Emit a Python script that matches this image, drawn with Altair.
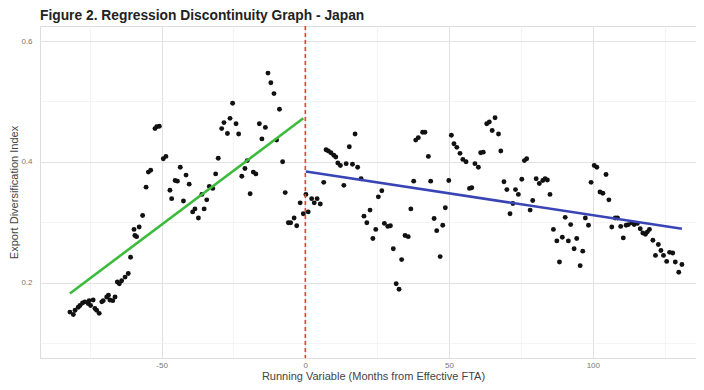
import altair as alt
import pandas as pd

# Running variable (months from effective FTA) and export diversification index
months_pre = [-81.9, -80.7, -80.1, -79.0, -78.4, -77.5, -76.7, -75.5, -75.2, -74.7,
              -73.8, -73.2, -72.6, -71.7, -70.8, -70.3, -69.1, -68.5, -68.0, -67.0,
              -66.2, -65.4, -64.7, -63.9, -62.7, -61.6, -60.8, -59.6, -59.3, -58.7,
              -57.8, -56.6, -55.4, -54.6, -53.8, -52.3, -51.7, -50.8, -49.4, -48.5,
              -47.1, -46.5, -45.3, -44.5, -43.5, -42.4, -41.5, -40.4, -39.2, -38.4,
              -37.2, -36.0, -35.2, -34.3, -33.4, -32.2, -31.2, -30.3, -29.1, -28.3,
              -27.1, -26.2, -25.3, -24.1, -23.2, -22.1, -21.0, -20.2, -19.2, -18.1,
              -17.2, -16.0, -15.1, -13.9, -13.0, -12.0, -10.9, -10.0, -9.0, -7.9,
              -7.0, -5.9, -5.1, -3.9, -3.0, -1.8, -0.7]
index_pre = [0.151, 0.147, 0.154, 0.159, 0.162, 0.166, 0.168, 0.165, 0.170, 0.162,
             0.171, 0.157, 0.154, 0.149, 0.168, 0.170, 0.176, 0.179, 0.171, 0.170,
             0.176, 0.201, 0.198, 0.203, 0.209, 0.215, 0.242, 0.288, 0.278, 0.276,
             0.292, 0.311, 0.358, 0.383, 0.386, 0.455, 0.458, 0.459, 0.405, 0.409,
             0.353, 0.339, 0.369, 0.368, 0.391, 0.335, 0.378, 0.363, 0.317, 0.322,
             0.307, 0.346, 0.322, 0.337, 0.359, 0.356, 0.380, 0.406, 0.455, 0.465,
             0.447, 0.472, 0.497, 0.463, 0.446, 0.376, 0.389, 0.402, 0.347, 0.383,
             0.380, 0.463, 0.438, 0.457, 0.547, 0.531, 0.513, 0.436, 0.487, 0.400,
             0.349, 0.299, 0.299, 0.307, 0.294, 0.332, 0.314]

months_post = [0.2, 1.0, 2.2, 3.1, 4.1, 5.2, 6.4, 7.2, 8.0, 8.9,
               9.9, 10.6, 11.3, 12.2, 13.4, 14.2, 15.3, 16.4, 17.3, 18.2,
               19.4, 20.4, 21.4, 22.5, 23.5, 24.5, 25.4, 26.6, 27.5, 28.7,
               29.6, 30.6, 31.6, 32.6, 33.5, 34.7, 35.8, 36.7, 37.7, 38.4,
               39.3, 40.8, 41.6, 42.8, 43.6, 44.8, 45.7, 46.9, 47.8, 48.7,
               49.9, 50.8, 51.7, 52.7, 53.8, 54.8, 55.9, 57.1, 57.9, 59.0,
               60.2, 61.0, 61.9, 63.1, 64.0, 65.0, 66.0, 67.2, 68.0, 69.1,
               70.1, 71.2, 72.2, 73.1, 74.1, 75.3, 76.2, 77.0, 78.2, 79.1,
               80.3, 81.4, 82.6, 83.4, 84.2, 85.1, 86.3, 87.5, 88.4, 89.4,
               90.4, 91.5, 92.3, 93.5, 94.4, 95.6, 96.5, 97.4, 98.5, 99.4,
               100.5, 101.4, 102.5, 103.5, 104.6, 105.6, 106.6, 107.8, 108.6, 109.7,
               110.6, 111.6, 112.4, 113.6, 114.4, 115.5, 116.5, 117.4, 118.3, 119.0,
               119.7, 120.9, 121.8, 122.8, 123.7, 124.6, 125.7, 126.7, 127.8, 128.7,
               129.9, 131.0]
index_post = [0.346, 0.317, 0.339, 0.332, 0.339, 0.330, 0.366, 0.420, 0.418, 0.415,
              0.411, 0.408, 0.398, 0.394, 0.361, 0.397, 0.425, 0.396, 0.446, 0.391,
              0.372, 0.310, 0.299, 0.320, 0.273, 0.288, 0.342, 0.352, 0.298, 0.293,
              0.294, 0.256, 0.198, 0.189, 0.238, 0.278, 0.276, 0.322, 0.368, 0.436,
              0.440, 0.449, 0.449, 0.409, 0.368, 0.306, 0.286, 0.243, 0.295, 0.324,
              0.369, 0.444, 0.430, 0.424, 0.414, 0.404, 0.400, 0.356, 0.357, 0.397,
              0.391, 0.415, 0.416, 0.463, 0.466, 0.452, 0.473, 0.446, 0.418, 0.367,
              0.354, 0.314, 0.331, 0.354, 0.346, 0.371, 0.402, 0.405, 0.320, 0.336,
              0.372, 0.364, 0.369, 0.372, 0.370, 0.346, 0.288, 0.269, 0.234, 0.275,
              0.308, 0.269, 0.296, 0.256, 0.273, 0.228, 0.252, 0.307, 0.295, 0.366,
              0.394, 0.391, 0.350, 0.348, 0.379, 0.337, 0.292, 0.307, 0.307, 0.293,
              0.274, 0.295, 0.296, 0.299, 0.296, 0.298, 0.289, 0.282, 0.280, 0.284,
              0.288, 0.270, 0.245, 0.263, 0.253, 0.245, 0.235, 0.250, 0.249, 0.234,
              0.217, 0.230]

cutoff = [0]
x_ticks = [-75, -50, -25, 0, 25, 50, 75, 100, 125]
y_ticks = [0.1, 0.2, 0.3, 0.4, 0.5, 0.6]

df = pd.DataFrame({
    "month": months_pre + months_post,
    "edi": index_pre + index_post,
})

FONT = "Liberation Sans"
xscale = alt.Scale(domain=[-92.3, 135.9], nice=False, zero=False)
yscale = alt.Scale(domain=[0.075, 0.625], nice=False, zero=False)

x_axis = alt.Axis(
    values=x_ticks,
    labelExpr="datum.value % 50 == 0 ? '' + datum.value : ''",
    grid=True,
    gridColor={"condition": {"test": "datum.value % 50 != 0", "value": "#efefef"}, "value": "#e2e2e2"},
    gridWidth={"condition": {"test": "datum.value % 50 != 0", "value": 0.7}, "value": 1.1},
    domain=False, ticks=False,
    labelFontSize=8, labelColor="#777777", labelPadding=3, labelFont=FONT,
    title="Running Variable (Months from Effective FTA)",
    titleFontSize=11, titleColor="#444444", titleFontWeight="normal", titleFont=FONT,
    titlePadding=1, titleX=333,
)
y_axis = alt.Axis(
    values=y_ticks,
    labelExpr="round(datum.value * 10) % 2 == 0 ? format(datum.value, '.1f') : ''",
    grid=True,
    gridColor={"condition": {"test": "round(datum.value * 10) % 2 == 1", "value": "#efefef"}, "value": "#e2e2e2"},
    gridWidth={"condition": {"test": "round(datum.value * 10) % 2 == 1", "value": 0.7}, "value": 1.1},
    domain=False, ticks=False,
    labelFontSize=8, labelColor="#777777", labelPadding=8, labelFont=FONT,
    title="Export Diversification Index",
    titleFontSize=11, titleColor="#444444", titleFontWeight="normal", titleFont=FONT,
    titlePadding=1,
)

base = alt.Chart(df)

points = base.mark_circle(size=24, color="#111111", opacity=1).encode(
    x=alt.X("month:Q", scale=xscale, axis=x_axis),
    y=alt.Y("edi:Q", scale=yscale, axis=y_axis),
)

fit_pre = base.transform_filter("datum.month < 0").transform_regression(
    "month", "edi"
).mark_line(color="#3dbb3d", strokeWidth=2.6).encode(
    x=alt.X("month:Q", scale=xscale),
    y=alt.Y("edi:Q", scale=yscale),
)

fit_post = base.transform_filter("datum.month >= 0").transform_regression(
    "month", "edi"
).mark_line(color="#3a45b5", strokeWidth=2.6).encode(
    x=alt.X("month:Q", scale=xscale),
    y=alt.Y("edi:Q", scale=yscale),
)

vline = alt.Chart(pd.DataFrame({"c": cutoff})).mark_rule(
    color="#f03a3a", strokeDash=[4, 3], strokeWidth=1.6
).encode(x=alt.X("c:Q", scale=xscale))

chart = alt.layer(points, fit_pre, fit_post, vline).properties(
    width=656,
    height=332,
    padding={"left": 32, "top": 18, "right": 0, "bottom": 24},
    autosize=alt.AutoSizeParams(type="none"),
    title=alt.TitleParams(
        "Figure 2. Regression Discontinuity Graph - Japan",
        anchor="start", frame="group", fontSize=13.8, font=FONT, fontWeight="bold",
        color="#222222", offset=2,
    ),
).configure_view(stroke=None).configure(background="white")

chart.save("out.html", embed_options={"renderer": "svg", "actions": False})
